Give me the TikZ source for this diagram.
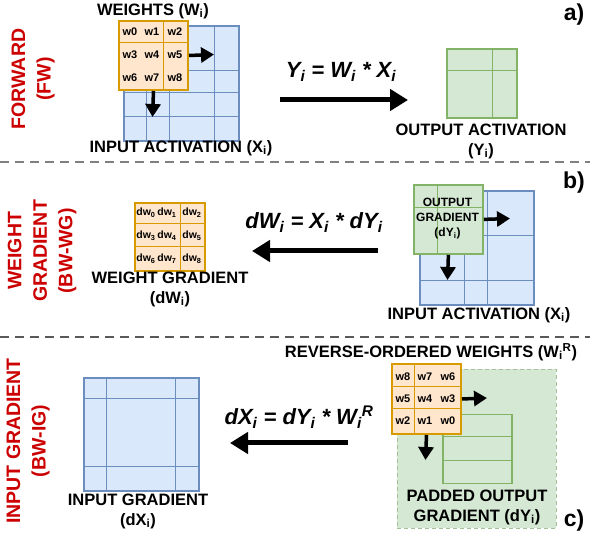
\documentclass[tikz,border=0pt]{standalone}
\usepackage{fontspec}
\setmainfont{Liberation Sans}
\usetikzlibrary{arrows.meta,calc}
\definecolor{bluefill}{HTML}{DAE8FC}
\definecolor{bluedraw}{HTML}{6C8EBF}
\definecolor{greenfill}{HTML}{D5E8D4}
\definecolor{greendraw}{HTML}{82B366}
\definecolor{orfill}{HTML}{FFE6CC}
\definecolor{ordraw}{HTML}{D79B00}
\definecolor{redtxt}{HTML}{CC0000}
\newcommand{\fsz}[2]{\fontsize{#1}{#2}\selectfont}
\begin{document}
\begin{tikzpicture}[x=1pt,y=-1pt,
  lbl/.style={font=\bfseries\fsz{16.5}{20}, inner sep=0, align=center},
  eqn/.style={font=\bfseries\itshape\fsz{22}{24}, inner sep=0},
  tag/.style={font=\bfseries\fsz{23}{24}, inner sep=0},
  redlbl/.style={font=\bfseries\fsz{19.5}{25.5}, text=redtxt, inner sep=0, align=center, rotate=90},
  cell/.style={font=\bfseries\fsz{11}{12}, inner sep=0},
  dcell/.style={font=\bfseries\fsz{10.5}{12}, inner sep=0},
  bluebox/.style={draw=bluedraw, fill=bluefill, line width=1.8pt, inner sep=0, anchor=north west},
  greenbox/.style={draw=greendraw, fill=greenfill, line width=1.8pt, inner sep=0, anchor=north west},
  orbox/.style={draw=ordraw, fill=orfill, line width=2pt, inner sep=0, anchor=north west},
  padbox/.style={draw=greendraw!70!gray!70, fill=greenfill, dashed, dash pattern=on 4pt off 3pt, line width=0.8pt, inner sep=0, anchor=north west},
  bline/.style={draw=bluedraw, line width=1pt},
  gline/.style={draw=greendraw, line width=1pt},
  oline/.style={draw=ordraw, line width=1pt},
  sarrow/.style={line width=3.5pt, -{Triangle[length=13pt,width=15pt]}},
  barrow/.style={line width=5pt, -{Triangle[length=18pt,width=21pt]}},
  sep1/.style={draw=black!50, line width=1.5pt, dash pattern=on 9pt off 6pt},
  sep2/.style={draw=black!65, line width=1.5pt, dash pattern=on 9pt off 6pt}
]
\useasboundingbox (0,0) rectangle (590,534);

% ---------------- Panel a ----------------
\node[redlbl] (fwlbl) at (33,79) {FORWARD\\(FW)};
\node[lbl] (wAlbl) at (153,11) {WEIGHTS (W\textsubscript{i})};
\node[bluebox, minimum width=115pt, minimum height=115pt] (inA) at (123,25) {};
\foreach \x in {146,169,214} \draw[bline] (\x,25) -- (\x,140);
\foreach \y in {71,93,117} \draw[bline] (123,\y) -- (238,\y);
\node[orbox, minimum width=69pt, minimum height=69pt] (wA) at (118,20) {};
\draw[oline] (163,20) -- (163,89);
\draw[oline] (118,43) -- (187,43);
\node[cell] (a0) at (130,32) {w0};
\node[cell] (a1) at (152,32) {w1};
\node[cell] (a2) at (175,32) {w2};
\node[cell] (a3) at (130,55) {w3};
\node[cell] (a4) at (152,55) {w4};
\node[cell] (a5) at (175,55) {w5};
\node[cell] (a6) at (130,78) {w6};
\node[cell] (a7) at (152,78) {w7};
\node[cell] (a8) at (175,78) {w8};
\coordinate (aR) at (214,54.5);
\coordinate (aD) at (152.5,117);
\draw[sarrow] (wA.east) -- (aR);
\draw[sarrow] (wA.south) -- (aD);
\node[lbl] (inAlbl) at (181,148) {INPUT ACTIVATION (X\textsubscript{i})};
\node[eqn] (eqA) at (341,72) {Y\textsubscript{i} = W\textsubscript{i} * X\textsubscript{i}};
\coordinate (eqAs) at (280,100);
\coordinate (eqAe) at (408,100);
\draw[barrow] (eqAs) -- (eqAe);
\node[greenbox, minimum width=70pt, minimum height=69pt] (outA) at (446,48) {};
\draw[gline] (492,48) -- (492,117);
\draw[gline] (446,71) -- (516,71);
\node[lbl] (outAlbl) at (481,141) {OUTPUT ACTIVATION\\(Y\textsubscript{i})};
\node[tag] (taga) at (574,15) {a)};

\coordinate (s1a) at (0,162);
\coordinate (s1b) at (590,162);
\draw[sep1] (s1a) -- (s1b);

% ---------------- Panel b ----------------
\node[redlbl] (wglbl) at (42,251) {WEIGHT\\GRADIENT\\(BW-WG)};
\node[orbox, minimum width=70pt, minimum height=68pt, line width=1.6pt] (dwB) at (134,202) {};
\draw[oline] (180,202) -- (180,270);
\draw[oline] (134,224) -- (204,224);
\draw[oline] (134,247) -- (204,247);
\node[dcell] (b0) at (146,213) {dw\textsubscript{0}};
\node[dcell] (b1) at (167,213) {dw\textsubscript{1}};
\node[dcell] (b2) at (192,213) {dw\textsubscript{2}};
\node[dcell] (b3) at (146,236) {dw\textsubscript{3}};
\node[dcell] (b4) at (167,236) {dw\textsubscript{4}};
\node[dcell] (b5) at (192,236) {dw\textsubscript{5}};
\node[dcell] (b6) at (146,259) {dw\textsubscript{6}};
\node[dcell] (b7) at (167,259) {dw\textsubscript{7}};
\node[dcell] (b8) at (192,259) {dw\textsubscript{8}};
\node[lbl] (dwBlbl) at (170,289) {WEIGHT GRADIENT\\(dW\textsubscript{i})};
\node[eqn] (eqB) at (314,223) {dW\textsubscript{i} = X\textsubscript{i} * dY\textsubscript{i}};
\coordinate (eqBs) at (378,251);
\coordinate (eqBe) at (252,251);
\draw[barrow] (eqBs) -- (eqBe);
\node[bluebox, minimum width=114pt, minimum height=114pt] (inB) at (419,190) {};
\foreach \x in {464,487} \draw[bline] (\x,190) -- (\x,304);
\foreach \y in {236,281} \draw[bline] (419,\y) -- (533,\y);
\node[greenbox, minimum width=69pt, minimum height=69pt] (gB) at (413,184) {};
\draw[gline] (437,184) -- (437,253);
\draw[gline] (413,208) -- (482,208);
\node[font=\bfseries\fsz{12}{15}, inner sep=0, align=center] (gBlbl) at (447.5,218.5) {OUTPUT\\GRADIENT\\(dY\textsubscript{i})};
\coordinate (bR) at (510,218.5);
\coordinate (bD) at (447.5,280);
\draw[sarrow] (gB.east) -- (bR);
\draw[sarrow] (gB.south) -- (bD);
\node[lbl] (inBlbl) at (479,315) {INPUT ACTIVATION (X\textsubscript{i})};
\node[tag] (tagb) at (574,183) {b)};

\coordinate (s2a) at (0,337);
\coordinate (s2b) at (590,337);
\draw[sep2] (s2a) -- (s2b);

% ---------------- Panel c ----------------
\node[redlbl] (iglbl) at (28,441) {INPUT GRADIENT\\(BW-IG)};
\node[bluebox, minimum width=115pt, minimum height=113pt] (inC) at (83,377) {};
\foreach \x in {106,175} \draw[bline] (\x,377) -- (\x,490);
\foreach \y in {399,467} \draw[bline] (83,\y) -- (198,\y);
\node[lbl] (inClbl) at (138,511) {INPUT GRADIENT\\(dX\textsubscript{i})};
\node[eqn] (eqC) at (299,417) {dX\textsubscript{i} = dY\textsubscript{i} * W\textsubscript{i}\textsuperscript{R}};
\coordinate (eqCs) at (348,443);
\coordinate (eqCe) at (230,443);
\draw[barrow] (eqCs) -- (eqCe);
\node[lbl] (wClbl) at (431,352) {REVERSE-ORDERED WEIGHTS (W\textsubscript{i}\textsuperscript{R})};
\node[padbox, minimum width=159pt, minimum height=159pt] (padC) at (397,369) {};
\node[draw=greendraw, line width=1.5pt, inner sep=0, anchor=north west, minimum width=69pt, minimum height=69pt] (gC) at (442,414) {};
\draw[gline] (442,437) -- (511,437);
\draw[gline] (442,461) -- (511,461);
\node[orbox, minimum width=69pt, minimum height=70pt] (wC) at (391,363) {};
\draw[oline] (414,363) -- (414,433);
\draw[oline] (391,387) -- (460,387);
\draw[oline] (391,409) -- (460,409);
\node[cell] (c0) at (403,377) {w8};
\node[cell] (c1) at (425,377) {w7};
\node[cell] (c2) at (448,377) {w6};
\node[cell] (c3) at (403,399) {w5};
\node[cell] (c4) at (425,399) {w4};
\node[cell] (c5) at (448,399) {w3};
\node[cell] (c6) at (403,421) {w2};
\node[cell] (c7) at (425,421) {w1};
\node[cell] (c8) at (448,421) {w0};
\coordinate (cR) at (487,398);
\coordinate (cD) at (425.5,460);
\draw[sarrow] (wC.east) -- (cR);
\draw[sarrow] (wC.south) -- (cD);
\node[lbl] (padClbl) at (477,507) {PADDED OUTPUT\\GRADIENT (dY\textsubscript{i})};
\node[tag] (tagc) at (574,521) {c)};
\end{tikzpicture}
\end{document}
